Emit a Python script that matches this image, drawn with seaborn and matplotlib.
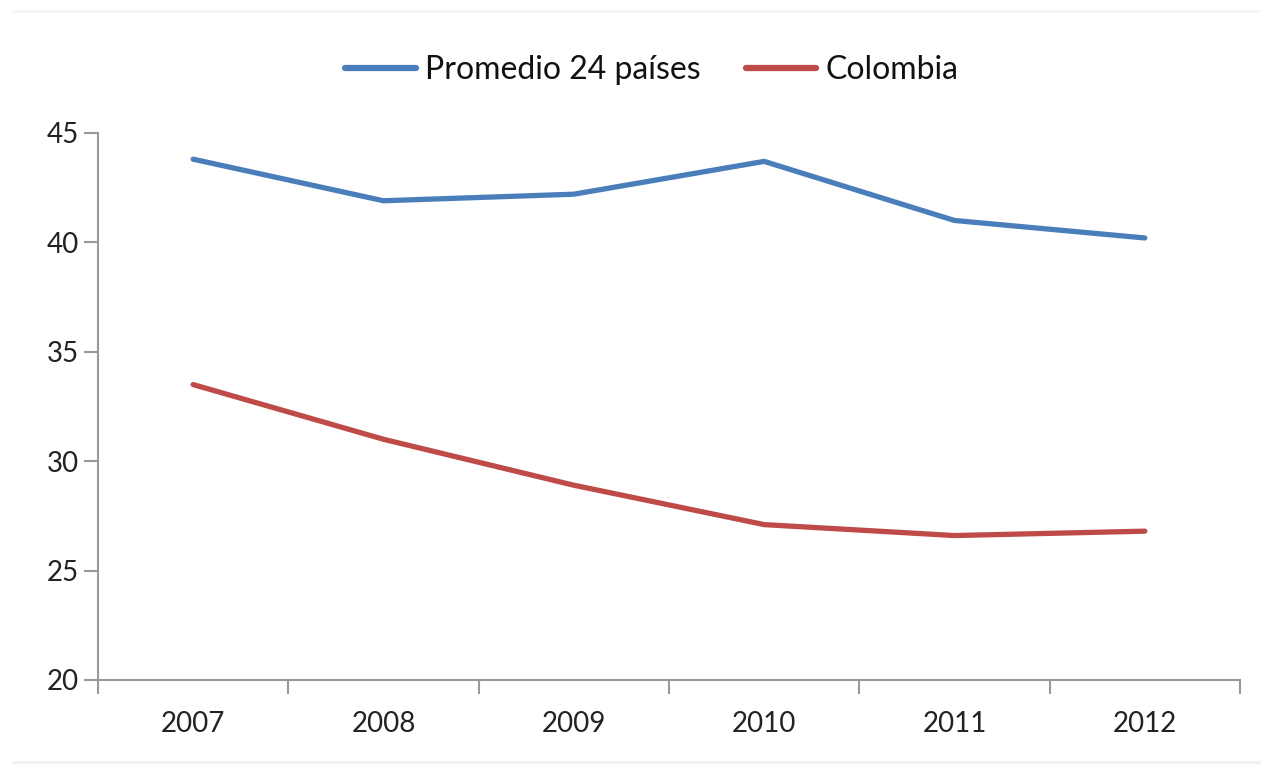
import matplotlib
matplotlib.use("Agg")
import matplotlib.pyplot as plt
import seaborn as sns
import pandas as pd
import numpy as np

years = ["2007", "2008", "2009", "2010", "2011", "2012"]
promedio = [43.8, 41.9, 42.2, 43.7, 41.0, 40.2]
colombia = [33.5, 31.0, 28.9, 27.1, 26.6, 26.8]
series_names = ["Promedio 24 países", "Colombia"]
y_ticks = [20, 25, 30, 35, 40, 45]

sns.set_theme(style="white")
plt.rcParams['font.family'] = ['Lato', 'DejaVu Sans']

df = pd.DataFrame({
    "pos": list(range(len(years))) * 2,
    "valor": promedio + colombia,
    "serie": [series_names[0]] * len(years) + [series_names[1]] * len(years),
})

fig = plt.figure(figsize=(12.61, 7.64), dpi=100)
ax = fig.add_axes([0.0777, 0.110, 0.9056, 0.716])
sns.lineplot(data=df, x="pos", y="valor", hue="serie",
             palette={series_names[0]: "#4A7EBB", series_names[1]: "#BE4B48"},
             linewidth=3.8, ax=ax, legend=True)

ax.set_xlim(-0.5, len(years) - 0.5)
ax.set_ylim(20, 45)
ax.set_yticks(y_ticks)
ax.set_yticklabels([str(t) for t in y_ticks], fontsize=20, color="#222222")
ax.set_xticks(np.arange(-0.5, len(years), 1.0))
ax.set_xticklabels([""] * (len(years) + 1))
ax.set_xticks(np.arange(len(years)), minor=True)
ax.set_xticklabels(years, minor=True, fontsize=20, color="#222222")
ax.tick_params(axis="x", which="major", length=10, width=1.5, color="#999999", direction="out", bottom=True)
ax.tick_params(axis="x", which="minor", length=0, pad=22)
ax.tick_params(axis="y", length=10, width=1.5, color="#999999", direction="out", left=True, pad=4)
ax.set_xlabel("")
ax.set_ylabel("")
for s in ["top", "right"]:
    ax.spines[s].set_visible(False)
for s in ["left", "bottom"]:
    ax.spines[s].set_color("#999999")
    ax.spines[s].set_linewidth(1.5)

leg = ax.legend(loc="upper center", bbox_to_anchor=(0.485, 1.195), ncol=2, frameon=False,
                fontsize=23, handlelength=2.2, handletextpad=0.3, columnspacing=1.4)
for t in leg.get_texts():
    t.set_color("#111111")
for h in leg.get_lines():
    h.set_linewidth(4.5)

fig.add_artist(plt.Line2D([0.01, 1.0], [0.985, 0.985], color="#F3F5F8", linewidth=2))
fig.add_artist(plt.Line2D([0.01, 1.0], [0.003, 0.003], color="#EEF2F2", linewidth=2))

fig.savefig("out.png", dpi=100, facecolor="white")
